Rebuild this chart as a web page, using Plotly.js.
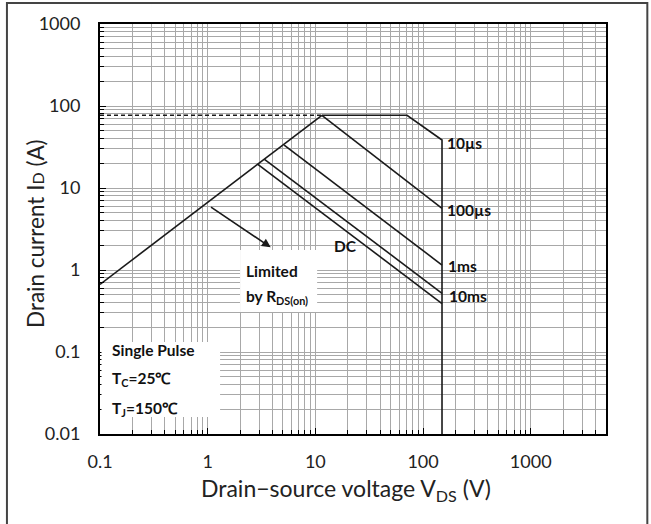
<!DOCTYPE html>
<html><head><meta charset="utf-8">
<script src="https://cdn.plot.ly/plotly-3.0.1.min.js"></script>
<style>html,body{margin:0;padding:0;background:#fff}#c{width:651px;height:524px}</style>
</head><body><div id="c"></div>
<script>
// Tick labels
const xTickVals = [0.1, 1, 10, 100, 1000];
const xTickText = ['0.1', '1', '10', '100', '1000'];
const yTickVals = [0.01, 0.1, 1, 10, 100, 1000];
const yTickText = ['0.01', '0.1', '1', '10', '100', '1000'];

// Safe operating area boundaries (V, A)
const rdsV = [0.1, 11.5];      const rdsI = [0.667, 77];
const limV = [0.1, 11.5];      const limI = [77, 77];
const us10V = [11.5, 71, 150, 150]; const us10I = [77, 77, 38.5, 0.01];
const us100V = [11.5, 150];    const us100I = [77, 5.65];
const ms1V = [5.13, 150];      const ms1I = [33.4, 1.15];
const ms10V = [3.37, 150];     const ms10I = [22.4, 0.52];
const dcV = [2.9, 150];        const dcI = [19.6, 0.39];
const arrowFrom = [1.04, 6.0]; const arrowTo = [3.85, 1.89];

const FONT = 'Lato, "Open Sans", sans-serif';
const lineStyle = {color: '#1a1a1a', width: 1.6};
function tr(x, y, extra) {
  return Object.assign({x: x, y: y, mode: 'lines', type: 'scatter', line: Object.assign({}, lineStyle), hoverinfo: 'skip', showlegend: false}, extra || {});
}
const traces = [
  tr(rdsV, rdsI),
  tr(limV, limI, {line: {color: '#1a1a1a', width: 1.6, dash: '4px,3px'}}),
  tr(us10V, us10I),
  tr(us100V, us100I),
  tr(ms1V, ms1I),
  tr(ms10V, ms10I),
  tr(dcV, dcI)
];

function minorVals(decades) {
  const out = [];
  decades.forEach(d => { for (let k = 2; k <= 9; k++) out.push(d * k); });
  return out;
}
const gridCol = '#a8a8a8';
const L = Math.log10;
// pixel helpers for paper coordinates
const PX0 = 100, PX1 = 605.7, PY0 = 434, PY1 = 24;
const px = p => (p - PX0) / (PX1 - PX0);
const py = p => (PY0 - p) / (PY0 - PY1);

const bold = (t, x, y, xa) => ({text: t, x: x, y: y, xref: 'paper', yref: 'paper', xanchor: xa || 'left', yanchor: 'middle', showarrow: false, font: {family: FONT, size: 15.5, color: '#111', weight: 'bold'}});

const layout = {
  width: 651, height: 524,
  margin: {l: 100, r: 45.3, t: 24, b: 90},
  paper_bgcolor: '#fff', plot_bgcolor: '#fff',
  font: {family: FONT, color: '#222'},
  xaxis: {
    type: 'log', range: [L(0.1), L(5000)],
    tickmode: 'array', tickvals: xTickVals, ticktext: xTickText,
    ticks: 'inside', ticklen: 6, tickcolor: '#000', tickwidth: 1,
    showgrid: true, gridcolor: gridCol, gridwidth: 1,
    minor: {tickmode: 'array', tickvals: minorVals([0.1, 1, 10, 100, 1000]), showgrid: true, gridcolor: gridCol, gridwidth: 1, ticks: 'inside', ticklen: 4, tickcolor: '#000'},
    showline: true, linecolor: '#000', linewidth: 2, mirror: true,
    zeroline: false, tickfont: {size: 18, family: FONT, color: '#222'},
    ticklabelstandoff: 10
  },
  yaxis: {
    type: 'log', range: [L(0.01), L(1000)],
    tickmode: 'array', tickvals: yTickVals, ticktext: yTickText,
    ticks: 'inside', ticklen: 6, tickcolor: '#000', tickwidth: 1,
    showgrid: true, gridcolor: gridCol, gridwidth: 1,
    minor: {tickmode: 'array', tickvals: minorVals([0.01, 0.1, 1, 10, 100]), showgrid: true, gridcolor: gridCol, gridwidth: 1, ticks: 'inside', ticklen: 4, tickcolor: '#000'},
    showline: true, linecolor: '#000', linewidth: 2, mirror: true,
    zeroline: false, tickfont: {size: 18, family: FONT, color: '#222'},
    ticklabelstandoff: 14
  },
  shapes: [
    // outer frame
    {type: 'rect', xref: 'paper', yref: 'paper', x0: px(7), x1: px(647), y0: py(560), y1: py(3), line: {color: '#444', width: 2}, fillcolor: 'rgba(0,0,0,0)', layer: 'above'},
    // white boxes behind notes
    {type: 'rect', xref: 'paper', yref: 'paper', x0: px(240), x1: px(317), y0: py(312), y1: py(250), line: {width: 0}, fillcolor: '#fff', layer: 'above'},
    {type: 'rect', xref: 'paper', yref: 'paper', x0: px(101.5), x1: px(220), y0: py(417), y1: py(342), line: {width: 0}, fillcolor: '#fff', layer: 'above'}
  ],
  annotations: [
    {text: 'Drain\u2212source voltage V<sub>DS</sub> (V)', x: px(346), y: py(489), xref: 'paper', yref: 'paper', xanchor: 'center', yanchor: 'middle', showarrow: false, font: {size: 23, family: FONT, color: '#222'}},
    {text: 'Drain current I<span style="font-size:16px">D</span> (A)', x: px(35), y: py(233), xref: 'paper', yref: 'paper', xanchor: 'center', yanchor: 'middle', textangle: -90, showarrow: false, font: {size: 22.5, family: FONT, color: '#222'}},
    bold('Limited', px(244), py(271)),
    bold('by R<sub>DS(on)</sub>', px(244), py(297)),
    bold('Single Pulse', px(110), py(350)),
    bold('T<sub>C</sub>=25\u2103', px(110), py(379)),
    bold('T<sub>J</sub>=150\u2103', px(110), py(409)),
    bold('10\u00b5s', px(445), py(143)),
    bold('100\u00b5s', px(445), py(210)),
    bold('1ms', px(446), py(266)),
    bold('10ms', px(447), py(296)),
    bold('DC', px(332), py(246)),
    {x: L(arrowTo[0]), y: L(arrowTo[1]), ax: L(arrowFrom[0]), ay: L(arrowFrom[1]), xref: 'x', yref: 'y', axref: 'x', ayref: 'y',
     text: '', showarrow: true, arrowhead: 2, arrowsize: 1.1, arrowwidth: 1.6, arrowcolor: '#1a1a1a'}
  ]
};
Plotly.newPlot('c', traces, layout, {displayModeBar: false, staticPlot: true});
</script></body></html>
